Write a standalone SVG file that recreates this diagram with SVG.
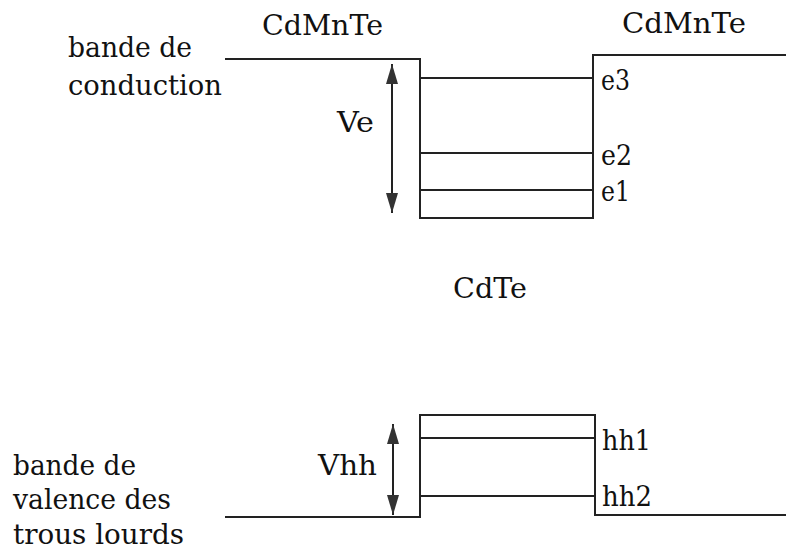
<svg xmlns="http://www.w3.org/2000/svg" width="786" height="557" viewBox="0 0 786 557">
<style>
text{font-family:"DejaVu Serif",serif;font-size:28px;fill:#111}
.ln{stroke:#222;stroke-width:2;fill:none}
.ar{stroke:#222;stroke-width:2}
</style>
<defs>
<marker id="ah2" viewBox="0 0 20 12" refX="20" refY="6" markerWidth="20" markerHeight="12" orient="auto-start-reverse" markerUnits="userSpaceOnUse" preserveAspectRatio="none">
<path d="M0,0 L20,6 L0,12 z" fill="#333"/>
</marker>
</defs>
<rect width="786" height="557" fill="#fff"/>
<g id="conduction-band">
<path class="ln" d="M225,59 H420 V218 H593 V55 H786"/>
<line class="ln" x1="420" y1="78" x2="593" y2="78"/>
<line class="ln" x1="420" y1="153" x2="593" y2="153"/>
<line class="ln" x1="420" y1="190" x2="593" y2="190"/>
</g>
<g id="valence-band">
<path class="ln" d="M225,517 H420 V415 H595 V515 H786"/>
<line class="ln" x1="420" y1="438" x2="595" y2="438"/>
<line class="ln" x1="420" y1="496" x2="595" y2="496"/>
</g>
<g id="connectors">
<line class="ar" x1="392" y1="64" x2="392" y2="213" marker-start="url(#ah2)" marker-end="url(#ah2)"/>
<line class="ar" x1="393" y1="424" x2="393" y2="515" marker-start="url(#ah2)" marker-end="url(#ah2)"/>
</g>
<g id="labels">
<text x="262" y="35" textLength="121" lengthAdjust="spacingAndGlyphs">CdMnTe</text>
<text x="622" y="33" textLength="124" lengthAdjust="spacingAndGlyphs">CdMnTe</text>
<text x="68" y="57" textLength="124" lengthAdjust="spacingAndGlyphs">bande de</text>
<text x="68" y="95" textLength="154" lengthAdjust="spacingAndGlyphs">conduction</text>
<text x="337" y="132" textLength="37" lengthAdjust="spacingAndGlyphs">Ve</text>
<text x="601" y="90" textLength="29" lengthAdjust="spacingAndGlyphs">e3</text>
<text x="601" y="165" textLength="31" lengthAdjust="spacingAndGlyphs">e2</text>
<text x="601" y="201" textLength="29" lengthAdjust="spacingAndGlyphs">e1</text>
<text x="453" y="298" textLength="74" lengthAdjust="spacingAndGlyphs">CdTe</text>
<text x="318" y="475" textLength="59" lengthAdjust="spacingAndGlyphs">Vhh</text>
<text x="602" y="450" textLength="49" lengthAdjust="spacingAndGlyphs">hh1</text>
<text x="602" y="506" textLength="50" lengthAdjust="spacingAndGlyphs">hh2</text>
<text x="13" y="475" textLength="123" lengthAdjust="spacingAndGlyphs">bande de</text>
<text x="13" y="509" textLength="158" lengthAdjust="spacingAndGlyphs">valence des</text>
<text x="13" y="544" textLength="171" lengthAdjust="spacingAndGlyphs">trous lourds</text>
</g>
</svg>
